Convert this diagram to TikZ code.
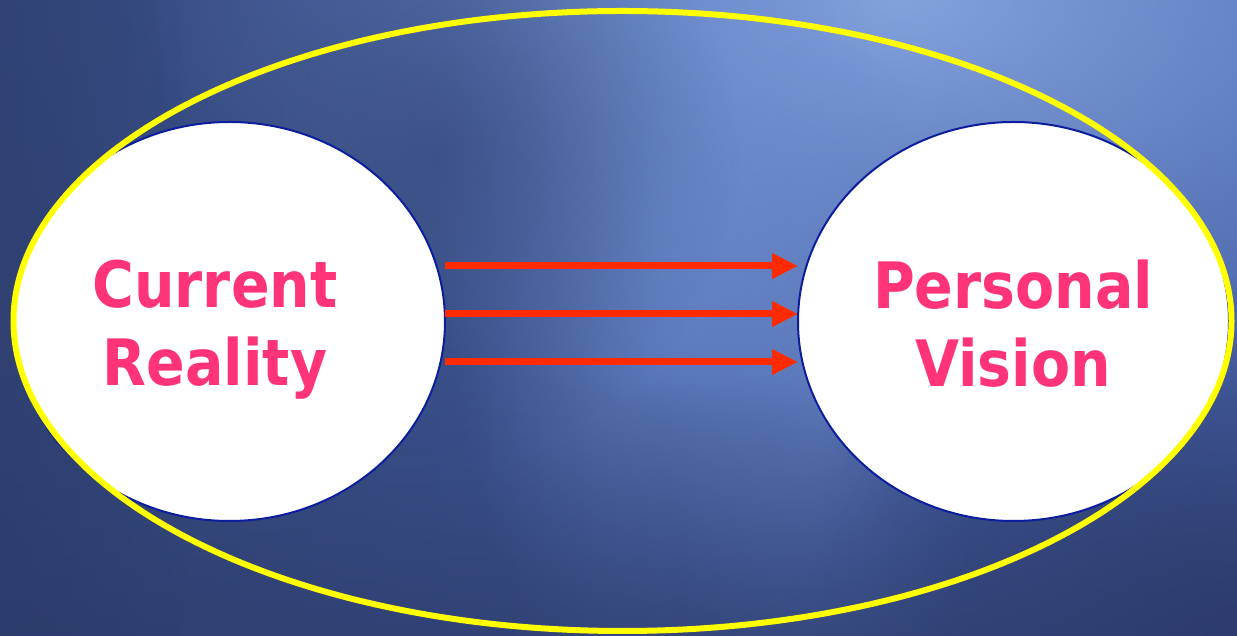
\documentclass[tikz,border=0pt]{standalone}
\usepackage{fontspec}
\setmainfont{DejaVu Sans}
\usetikzlibrary{arrows.meta,shapes.geometric,fadings}
\definecolor{bgdark}{HTML}{34487C}
\definecolor{bgmid}{HTML}{4660A6}
\definecolor{bglight}{HTML}{86A6E2}
\definecolor{bgstreak}{HTML}{7090D4}
\definecolor{bgdeep}{HTML}{2A3866}
\definecolor{pinktxt}{HTML}{FF3378}
\definecolor{arrowred}{HTML}{FF2A00}
\definecolor{rimblue}{HTML}{0C1E9E}
\definecolor{ringyellow}{HTML}{FFFF00}
\tikzfading[name=softblob, inner color=transparent!0, outer color=transparent!100]
\tikzfading[name=fadeup, top color=transparent!100, bottom color=transparent!0]
\tikzset{
  bubble/.style={ellipse, draw=rimblue, line width=2pt, fill=white, inner sep=0pt},
  lbltext/.style={text=pinktxt, font=\bfseries\fontsize{64}{78}\selectfont, align=center, inner sep=0pt},
  flow/.style={draw=arrowred, line width=7pt, -{Triangle[length=26pt,width=24pt]}},
}
\begin{document}
\begin{tikzpicture}[x=1pt,y=1pt]
\useasboundingbox (0,0) rectangle (1237,636);
% background
\begin{scope}
\clip (0,0) rectangle (1237,636);
\shade[left color=bgdark, right color=bgmid] (0,0) rectangle (1237,636);
\fill[bglight, opacity=0.95, path fading=softblob] (900,640) ellipse (760 and 440);
\fill[bgstreak, opacity=0.75, path fading=softblob] (660,420) ellipse (220 and 520);
\fill[bgstreak, opacity=0.5, path fading=softblob] (820,220) ellipse (160 and 380);
\fill[bgdark, opacity=0.7, path fading=softblob] (440,480) ellipse (300 and 300);
\fill[bgdeep, opacity=0.6, path fading=fadeup] (0,0) rectangle (1237,260);
\fill[bgdeep, opacity=0.8, path fading=softblob] (1237,0) ellipse (420 and 360);
\fill[bgdeep, opacity=0.5, path fading=softblob] (0,300) ellipse (200 and 700);
\end{scope}
% bubbles
\node[bubble, minimum width=431pt, minimum height=399pt] (cur) at (229.5,314.5) {};
\node[bubble, minimum width=431pt, minimum height=399pt] (vis) at (1013.5,314.5) {};
% outer ring
\node[ellipse, draw=ringyellow, line width=6pt, minimum width=1218pt, minimum height=620pt, inner sep=0pt] (ring) at (622.5,315) {};
% labels
\node[lbltext] (curtxt) at (215,306) {\scalebox{0.89}[1]{Current}\\\scalebox{0.89}[1]{Reality}};
\node[lbltext] (vistxt) at (1013,312) {\scalebox{0.89}[1]{Personal}\\\scalebox{0.89}[1]{Vision}};
% arrows
\coordinate (a1s) at (445,370); \coordinate (a1e) at (798,370);
\coordinate (a2s) at (445,322); \coordinate (a2e) at (798,322);
\coordinate (a3s) at (445,274); \coordinate (a3e) at (798,274);
\draw[flow] (a1s) -- (a1e);
\draw[flow] (a2s) -- (a2e);
\draw[flow] (a3s) -- (a3e);
\end{tikzpicture}
\end{document}
